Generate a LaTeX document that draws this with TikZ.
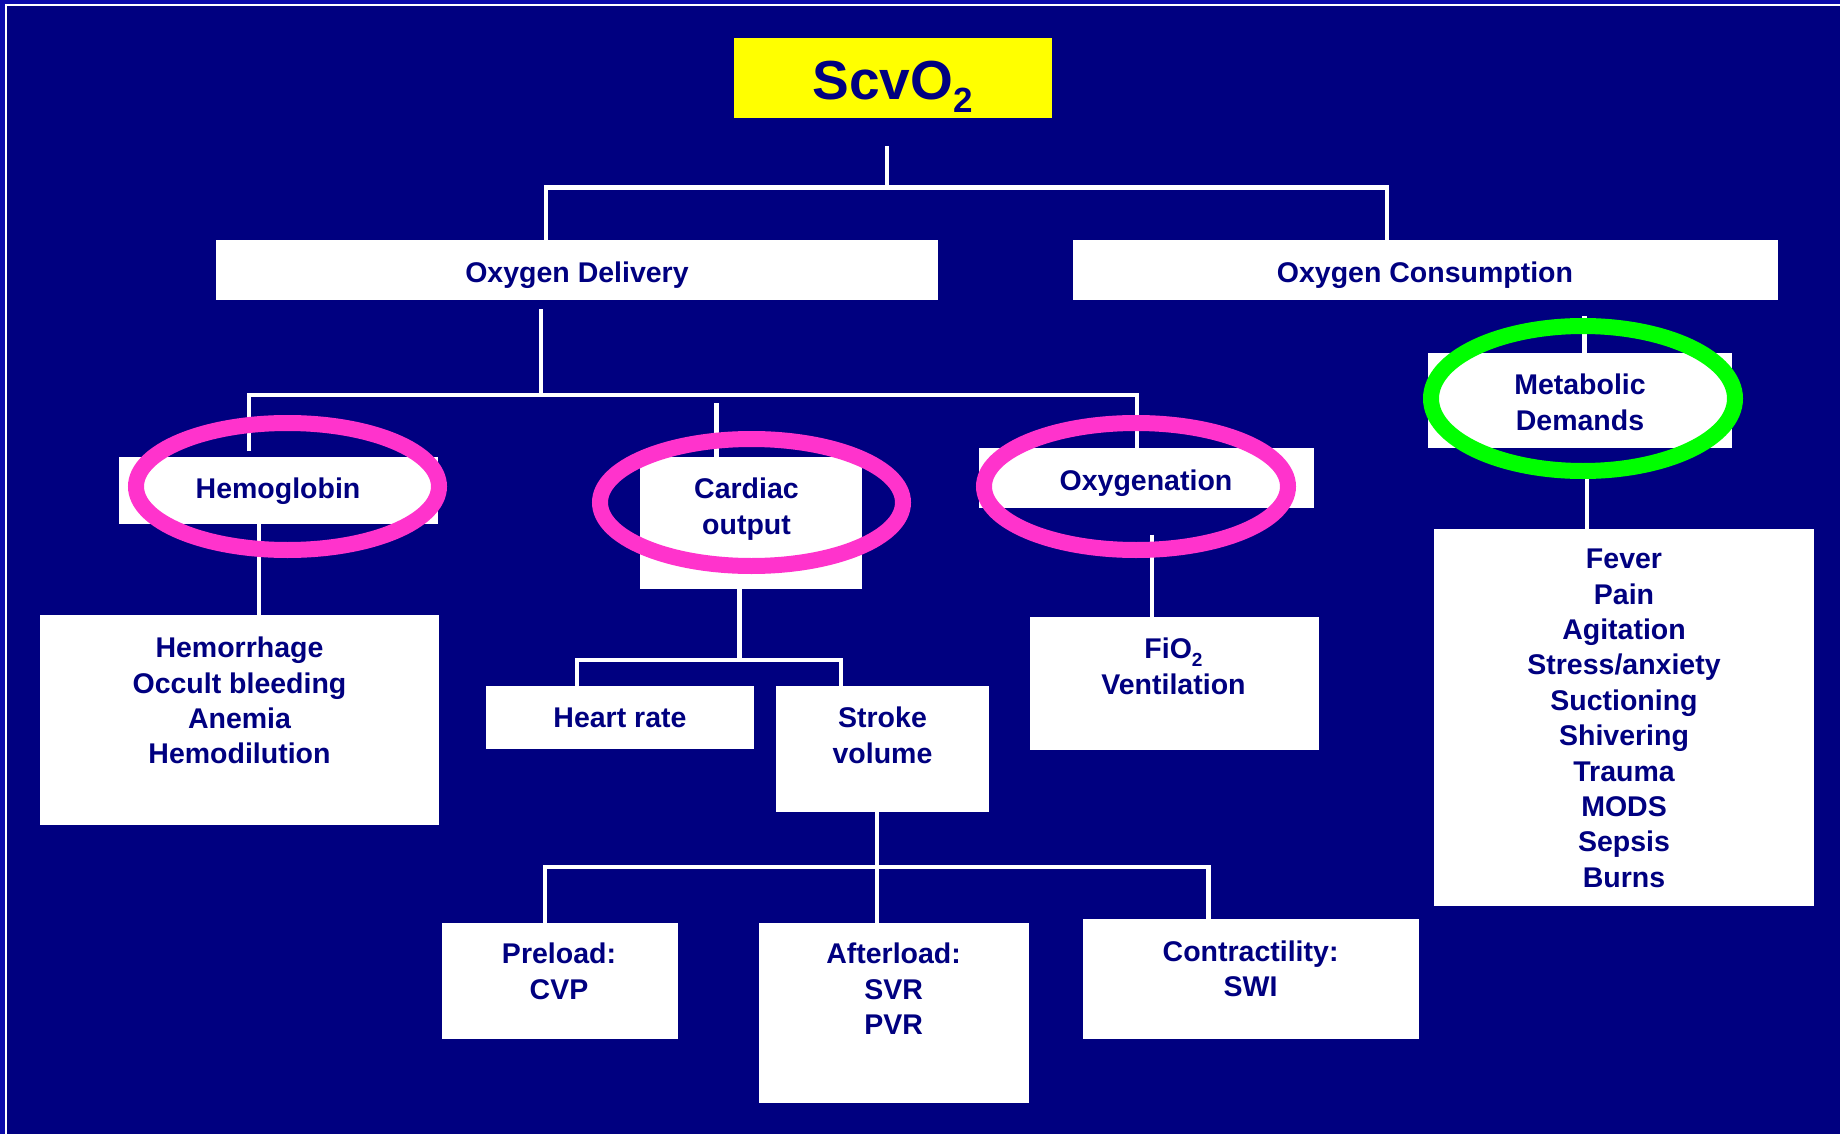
\documentclass[tikz,border=0pt]{standalone}
\usepackage{fontspec}
\setmainfont{Liberation Sans}
\usetikzlibrary{shapes.geometric}
\definecolor{navy}{RGB}{0,0,128}
\definecolor{outerblue}{RGB}{10,10,170}
\definecolor{hipink}{RGB}{255,51,204}
\definecolor{higreen}{RGB}{0,255,0}
\definecolor{scvyellow}{RGB}{255,255,0}
\begin{document}
\begin{tikzpicture}[x=1pt,y=-1pt,
  box/.style={rectangle, fill=white, draw=none, inner sep=0pt, outer sep=0pt},
  txt/.style={anchor=north, inner sep=0pt, align=center, text=navy,
              font=\fontsize{28.5}{35.4}\selectfont\bfseries},
  link/.style={draw=white, line width=4.5pt},
  ring/.style={ellipse, draw, line width=16pt, inner sep=0pt, outer sep=0pt, fill=none},
]
% background and frame
\fill[outerblue] (0,0) rectangle (1840,1134);
\fill[white] (5,4) rectangle (1840,1134);
\fill[navy] (7,6.5) rectangle (1840,1134);
\useasboundingbox (0,0) rectangle (1840,1134);

% boxes
\node[box, fill=scvyellow, minimum width=318pt, minimum height=80.5pt] (scv) at (892.5,78.25) {};
\node[box, minimum width=722pt, minimum height=60pt] (od) at (577,270) {};
\node[box, minimum width=705pt, minimum height=60pt] (oc) at (1425.5,270) {};
\node[box, minimum width=319pt, minimum height=67pt] (hb) at (278.5,490.5) {};
\node[box, minimum width=221.5pt, minimum height=132pt] (co) at (750.75,523) {};
\node[box, minimum width=335pt, minimum height=60pt] (ox) at (1146.5,478) {};
\node[box, minimum width=303.5pt, minimum height=95pt] (md) at (1579.75,400) {};
\node[box, minimum width=399pt, minimum height=210pt] (hem) at (239.5,720) {};
\node[box, minimum width=268pt, minimum height=63pt] (hr) at (620,717.5) {};
\node[box, minimum width=213pt, minimum height=126pt] (sv) at (882.5,749) {};
\node[box, minimum width=288.5pt, minimum height=132.5pt] (fio) at (1174.25,683.25) {};
\node[box, minimum width=380pt, minimum height=377.5pt] (list) at (1624,717.25) {};
\node[box, minimum width=236.5pt, minimum height=116.5pt] (pre) at (559.75,980.75) {};
\node[box, minimum width=270pt, minimum height=180.5pt] (aft) at (894,1012.75) {};
\node[box, minimum width=336.5pt, minimum height=120pt] (con) at (1250.75,979) {};

% texts
\node[anchor=base, inner sep=0pt, text=navy, font=\fontsize{55}{60}\selectfont\bfseries] (scvT) at (892.5,100)
  {ScvO\raisebox{-13pt}{\fontsize{35}{35}\selectfont 2}};
\node[txt] (odT) at (577,261.8) {Oxygen Delivery};
\node[txt] (ocT) at (1425,261.8) {Oxygen Consumption};
\node[txt] (hbT) at (278,477.8) {Hemoglobin};
\node[txt] (coT) at (746.5,477.8) {Cardiac\\output};
\node[txt] (oxT) at (1146,469.8) {Oxygenation};
\node[txt] (mdT) at (1580,373.8) {Metabolic\\Demands};
\node[txt] (hemT) at (239.5,636.8) {Hemorrhage\\Occult bleeding\\Anemia\\Hemodilution};
\node[txt] (hrT) at (620,707.8) {Heart rate};
\node[txt] (svT) at (882.5,706.8) {Stroke\\volume};
\node[txt] (fioT) at (1173.5,637.8) {FiO\raisebox{-8pt}{\fontsize{19}{19}\selectfont 2}\\Ventilation};
\node[txt] (listT) at (1624,548.8) {Fever\\Pain\\Agitation\\Stress/anxiety\\Suctioning\\Shivering\\Trauma\\MODS\\Sepsis\\Burns};
\node[txt] (preT) at (559,942.8) {Preload:\\CVP};
\node[txt] (aftT) at (893.6,942.8) {Afterload:\\SVR\\PVR};
\node[txt] (conT) at (1250.6,940.5) {Contractility:\\SWI};

% connectors
\coordinate (s0) at ([yshift=-27.5pt]scv.south);
\coordinate (j1) at (887,187.5);
\coordinate (j1l) at (546,187.5);
\coordinate (j1r) at (1387,187.5);
\draw[link] (s0 -| j1) -- (j1);
\draw[link] (od.north -| j1l) -- (j1l) -- (j1r) -- (oc.north -| j1r);

\coordinate (o0) at ([yshift=-9pt]od.south);
\coordinate (j2) at (541,395);
\coordinate (j2l) at (249,395);
\coordinate (j2r) at (1137,395);
\coordinate (h0) at ([yshift=6pt]hb.north);
\draw[link] (o0 -| j2) -- (j2);
\draw[link] (h0 -| j2l) -- (j2l) -- (j2r) -- (ox.north -| j2r);
\coordinate (c0) at (716.5,403);
\draw[link] (c0) -- (co.north -| c0);

\coordinate (k1) at (259,570);
\draw[link] (hb.south -| k1) -- (hem.north -| k1);

\coordinate (j3) at (739.5,660);
\coordinate (j3l) at (577,660);
\coordinate (j3r) at (841,660);
\draw[link] (co.south -| j3) -- (j3);
\draw[link] (hr.north -| j3l) -- (j3l) -- (j3r) -- (sv.north -| j3r);

\coordinate (j4) at (877,867);
\coordinate (j4l) at (545,867);
\coordinate (j4r) at (1208.5,867);
\draw[link] (sv.south -| j4) -- (j4) -- (aft.north -| j4);
\draw[link] (pre.north -| j4l) -- (j4l) -- (j4r) -- (con.north -| j4r);

\coordinate (j5) at (1152,534.5);
\draw[link] (j5) -- (fio.north -| j5);
\coordinate (j6) at (1584.5,316);
\draw[link] (j6) -- (md.north -| j6);
\coordinate (j7) at (1587,479);
\draw[link] (j7) -- (list.north -| j7);

% highlight rings
\node[ring, draw=hipink, minimum width=303pt, minimum height=127pt] (hbE) at (287.5,486.5) {};
\node[ring, draw=hipink, minimum width=303pt, minimum height=127pt] (coE) at (751.5,502.5) {};
\node[ring, draw=hipink, minimum width=304pt, minimum height=127pt] (oxE) at (1136,486.5) {};
\node[ring, draw=higreen, minimum width=304pt, minimum height=145pt] (mdE) at (1583,398.5) {};
\end{tikzpicture}
\end{document}
